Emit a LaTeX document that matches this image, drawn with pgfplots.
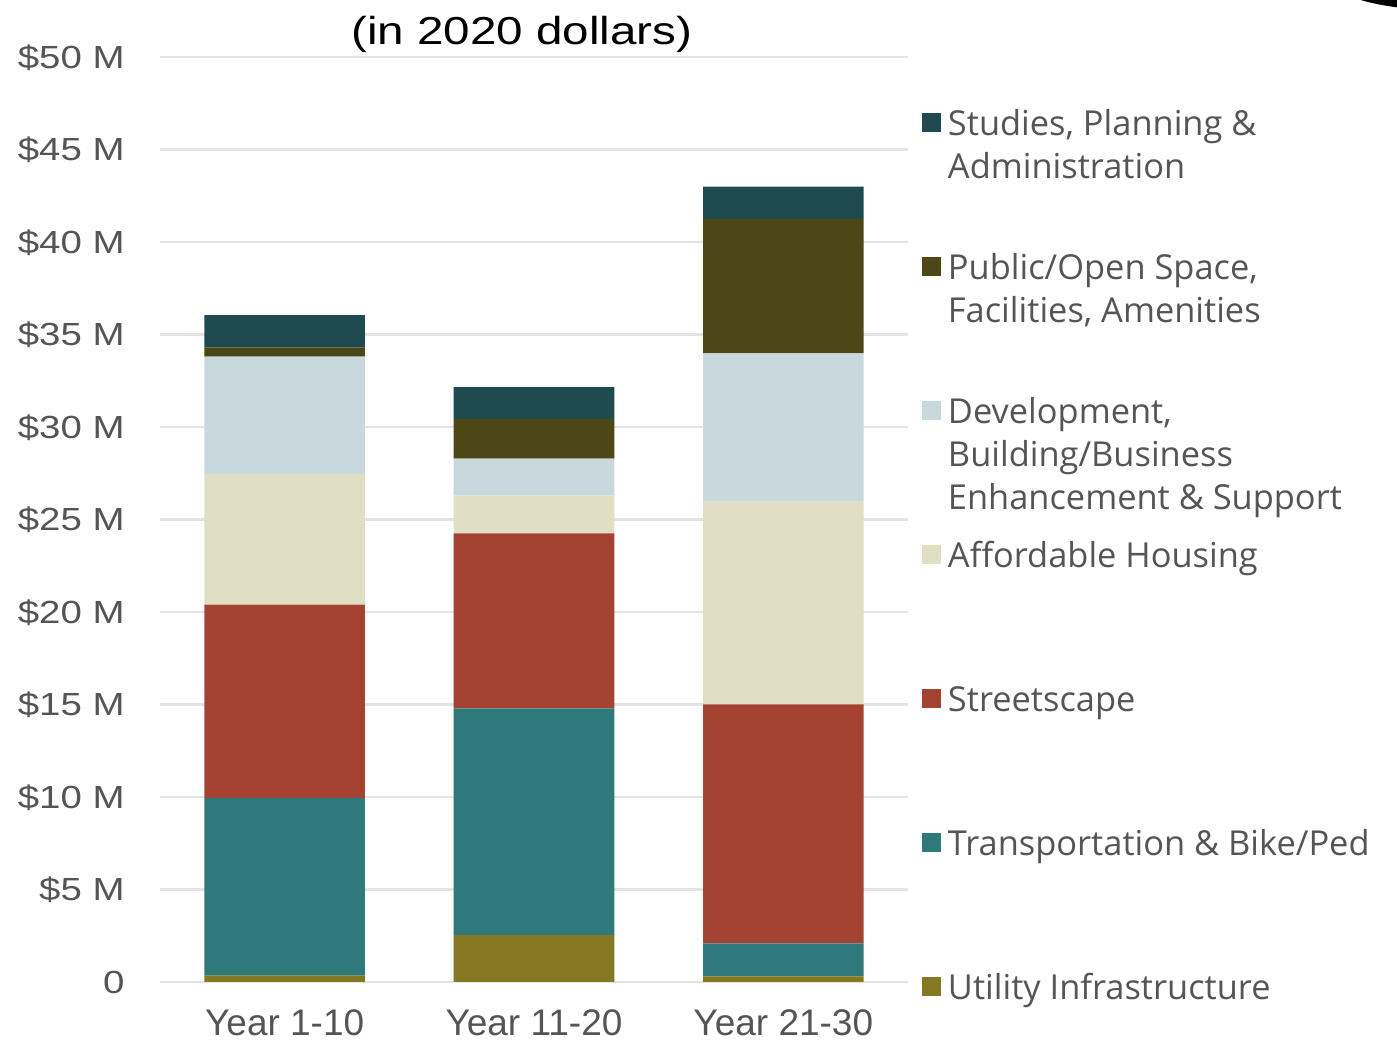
\documentclass[border=0pt]{standalone}
\usepackage{pgfplots}
\pgfplotsset{compat=1.18}
\usepackage{fontspec}
\setmainfont{Liberation Sans}
\newfontfamily\ytfont[FakeStretch=1.2]{Liberation Sans}
\newfontfamily\ttlfont[FakeStretch=1.22]{Liberation Sans}
\newfontfamily\lgfont{Open Sans}
\definecolor{cStud}{HTML}{1F4A4F}
\definecolor{cPub}{HTML}{4D4616}
\definecolor{cDev}{HTML}{C9D8DC}
\definecolor{cAff}{HTML}{E0DFC4}
\definecolor{cStr}{HTML}{A54333}
\definecolor{cTra}{HTML}{2F797B}
\definecolor{cUti}{HTML}{847823}
\definecolor{txt}{HTML}{555555}
\definecolor{grd}{HTML}{E3E3E3}
\newcommand{\LT}[1]{\lgfont\fontsize{17.2}{21.5}\selectfont\parbox[t]{240pt}{\strut #1}}
\begin{document}
\begin{tikzpicture}
\begin{axis}[
 at={(0,0)}, anchor=south west,
 width=374pt, height=462.5pt, scale only axis,
 ybar stacked, bar width=0.644,
 xmin=-0.5, xmax=2.5, ymin=0, ymax=50,
 xtick={0,1,2}, xticklabels={Year 1-10,Year 11-20,Year 21-30},
 ytick={0,5,10,15,20,25,30,35,40,45,50},
 yticklabels={0,\$5 M,\$10 M,\$15 M,\$20 M,\$25 M,\$30 M,\$35 M,\$40 M,\$45 M,\$50 M},
 ymajorgrids, grid style={grd, line width=1.3pt},
 axis line style={draw=none}, major tick length=0pt,
 xticklabel style={font=\fontsize{18.5}{20}\selectfont, text=txt, anchor=base, inner sep=0pt, yshift=-27pt},
 yticklabel style={font=\ytfont\fontsize{16}{19}\selectfont, text=txt, anchor=base east, inner sep=0pt, xshift=-17.5pt, yshift=-5.7pt},
 legend style={at={(axis description cs:1.0187,0.9482)}, anchor=north west, draw=none, fill=none, inner sep=0pt, outer sep=0pt, nodes={inner sep=0pt, text=txt}, row sep=0pt, cells={anchor=base west}, /tikz/every odd column/.append style={column sep=3.5pt}},
 reverse legend,
 legend image code/.code={\path[fill=none,draw=none] (0pt,-56.95pt) rectangle (9.5pt,15.05pt); \fill[#1] (0pt,1.35pt) rectangle (9.5pt,10.85pt);},
]
\addplot[fill=cUti, draw=none] coordinates {(0,0.35) (1,2.54) (2,0.30)};
\addlegendentry{\LT{Utility Infrastructure}}
\addplot[fill=cTra, draw=none] coordinates {(0,9.60) (1,12.25) (2,1.79)};
\addlegendentry{\LT{Transportation \& Bike/Ped}}
\addplot[fill=cStr, draw=none] coordinates {(0,10.45) (1,9.46) (2,12.92)};
\addlegendentry{\LT{Streetscape}}
\addplot[fill=cAff, draw=none] coordinates {(0,7.05) (1,2.06) (2,10.95)};
\addlegendentry{\LT{Affordable Housing}}
\addplot[fill=cDev, draw=none] coordinates {(0,6.35) (1,1.98) (2,8.02)};
\addlegendentry{\LT{Development,\\Building/Business\\Enhancement \& Support}}
\addplot[fill=cPub, draw=none] coordinates {(0,0.50) (1,2.13) (2,7.26)};
\addlegendentry{\LT{Public/Open Space,\\Facilities, Amenities}}
\addplot[fill=cStud, draw=none] coordinates {(0,1.75) (1,1.73) (2,1.75)};
\addlegendentry{\LT{Studies, Planning \&\\Administration}}
\end{axis}
\node[font=\ttlfont\fontsize{19.5}{22}\selectfont, anchor=base] at (181pt,468.5pt) {(in 2020 dollars)};
\fill[black] (640pt,506pt) ellipse (60pt and 20pt);
\pgfresetboundingbox
\path[use as bounding box] (-80pt,-30.5pt) rectangle (618.5pt,491pt);
\end{tikzpicture}
\end{document}
